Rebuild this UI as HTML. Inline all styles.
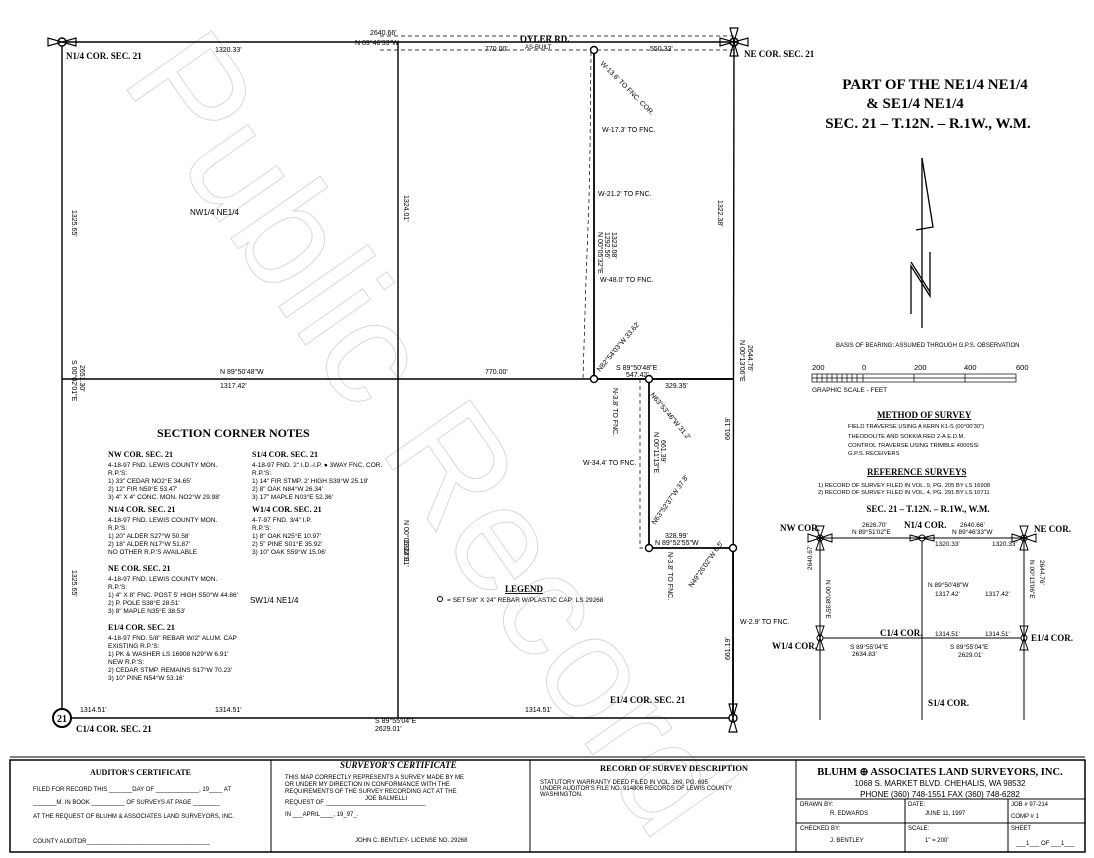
<!DOCTYPE html>
<html><head><meta charset="utf-8"><style>
html,body{margin:0;padding:0;background:#fff;width:1094px;height:858px;overflow:hidden;}
svg{display:block;font-family:"Liberation Sans",sans-serif;}
.s{font-family:"Liberation Serif",serif;font-weight:bold;}
</style></head><body>
<svg width="1094" height="858" viewBox="0 0 1094 858" xmlns="http://www.w3.org/2000/svg">
<rect width="1094" height="858" fill="#fff"/>
<!-- watermark -->
<text x="0" y="0" transform="translate(120,80) rotate(55)" font-size="150" fill="none" stroke="#d8d8d8" stroke-width="1" font-family="Liberation Sans,sans-serif">Public Record</text>

<g stroke="#000" fill="none" stroke-width="1.4">
<line x1="60" y1="42" x2="735" y2="42"/>
<line x1="62" y1="42" x2="62" y2="718"/>
<line x1="734" y1="42" x2="733" y2="718"/>
<line x1="62" y1="718" x2="733" y2="718"/>
<line x1="398" y1="42" x2="398" y2="718"/>
<line x1="62" y1="379" x2="734" y2="379"/>
<line x1="594" y1="48" x2="594" y2="379" stroke-width="1.8"/>
<line x1="594" y1="379" x2="734" y2="379" stroke-width="1.8"/>
<line x1="649" y1="379" x2="649" y2="548" stroke-width="1.8"/>
<line x1="649" y1="548" x2="733" y2="548" stroke-width="1.8"/>
<line x1="733" y1="548" x2="733" y2="718" stroke-width="1.8"/>
</g>
<g stroke="#000" fill="none" stroke-width="0.7" stroke-dasharray="4,3">
<line x1="380" y1="36" x2="735" y2="36"/>
<line x1="380" y1="50" x2="735" y2="50"/>
<polyline points="591,52 590,150 589,200 586,280 583,379"/>
<polyline points="640,379 640,548 649,548"/>
</g>
<g fill="#fff" stroke="#000" stroke-width="1.4">
<circle cx="594" cy="50" r="3.5"/><circle cx="594" cy="379" r="3.5"/><circle cx="649" cy="379" r="3.5"/><circle cx="649" cy="548" r="3.5"/><circle cx="733" cy="548" r="3.5"/>
<circle cx="62" cy="42" r="4"/><circle cx="734" cy="42" r="4"/><circle cx="733" cy="718" r="4"/>
<circle cx="62" cy="718" r="9" stroke-width="2"/>
</g>
<text x="62" y="722" font-size="10" text-anchor="middle" class="s">21</text>
<g stroke="#000" stroke-width="1.2" fill="none">
<path d="M48,38 L48,46 L76,38 L76,46 Z"/><path d="M720,38 L720,46 L748,38 L748,46 Z M730,28 L738,28 L730,56 L738,56 Z"/>
<path d="M729,704 L737,704 L729,732 L737,732 Z"/>
</g>

<g font-size="7" fill="#000">
<text x="370" y="35">2640.66'</text><text x="355" y="45">N 89°46'33"W</text>
<text x="215" y="52">1320.33'</text>
<text x="520" y="42" class="s" font-size="9" font-weight="normal">OYLER RD.</text>
<text x="525" y="49" font-size="6">AS-BUILT</text>
<text x="485" y="51">770.00'</text><text x="650" y="51">550.33'</text>
<text x="66" y="59" class="s" font-size="9" font-weight="normal">N1/4 COR. SEC. 21</text>
<text x="744" y="57" class="s" font-size="9" font-weight="normal">NE COR. SEC. 21</text>
<text x="190" y="215" font-size="8">NW1/4 NE1/4</text>
<text x="250" y="603" font-size="8">SW1/4 NE1/4</text>
<text transform="translate(72,210) rotate(90)">1325.65'</text>
<text transform="translate(72,360) rotate(90)">S 00°02'01"E</text>
<text transform="translate(80,365) rotate(90)">2651.30'</text>
<text transform="translate(72,570) rotate(90)">1325.65'</text>
<text transform="translate(404,195) rotate(90)">1324.01'</text>
<text transform="translate(404,540) rotate(90)">1324.01'</text>
<text transform="translate(404,520) rotate(90)">N 00°05'32"E</text>
<text transform="translate(718,200) rotate(90)">1322.38'</text>
<text transform="translate(740,340) rotate(90)">N 00°13'06"E</text>
<text transform="translate(748,345) rotate(90)">2644.76'</text>
<text transform="translate(730,440) rotate(-90)">661.19'</text>
<text transform="translate(730,660) rotate(-90)">661.19'</text>
<text x="220" y="374">N 89°50'48"W</text><text x="220" y="388">1317.42'</text>
<text x="485" y="374">770.00'</text>
<text x="616" y="370">S 89°50'48"E</text><text x="626" y="377">547.42'</text>
<text x="665" y="388">329.35'</text>
<text x="665" y="538">328.99'</text><text x="655" y="545">N 89°52'55"W</text>
<text x="600" y="64" transform="rotate(45 600 64)">W-13.6' TO FNC. COR.</text>
<text x="602" y="132">W-17.3' TO FNC.</text>
<text x="598" y="196">W-21.2' TO FNC.</text>
<text x="600" y="282">W-48.0' TO FNC.</text>
<text x="583" y="465">W-34.4' TO FNC.</text>
<text x="740" y="624">W-2.9' TO FNC.</text>
<text transform="translate(598,232) rotate(90)">N 00°05'32"E</text>
<text transform="translate(605,232) rotate(90)">1292.56'</text>
<text transform="translate(612,232) rotate(90)">1323.08'</text>
<text transform="translate(654,432) rotate(90)">N 00°11'13"E</text>
<text transform="translate(661,440) rotate(90)">661.39'</text>
<text transform="translate(600,372) rotate(-50)">N82°54'03"W 33.62'</text>
<text transform="translate(650,395) rotate(50)">N63°53'46"W 31.2'</text>
<text transform="translate(655,525) rotate(-55)">N63°52'37"W 37.8'</text>
<text transform="translate(692,588) rotate(-55)">N49°26'02"W 6.5'</text>
<text transform="translate(613,388) rotate(90)">N-3.8' TO FNC.</text>
<text transform="translate(668,552) rotate(90)">N-3.8' TO FNC.</text>
<text x="80" y="712">1314.51'</text><text x="215" y="712">1314.51'</text><text x="525" y="712">1314.51'</text>
<text x="375" y="723">S 89°55'04"E</text><text x="375" y="731">2629.01'</text>
<text x="76" y="732" class="s" font-size="9" font-weight="normal">C1/4 COR. SEC. 21</text>
<text x="610" y="703" class="s" font-size="9" font-weight="normal">E1/4 COR. SEC. 21</text>
</g>

<text x="157" y="437" class="s" font-size="12" font-weight="normal">SECTION CORNER NOTES</text>
<g font-size="6.5">
<text x="108" y="457" class="s" font-size="8">NW COR. SEC. 21</text>
<text x="108" y="467">4-18-97 FND. LEWIS COUNTY MON.</text><text x="108" y="475">R.P.'S:</text>
<text x="108" y="483">1) 33" CEDAR NO2°E 34.65'</text><text x="108" y="491">2) 12" FIR N59°E 53.47'</text><text x="108" y="499">3) 4" X 4" CONC. MON. NO2°W 29.98'</text>
<text x="108" y="512" class="s" font-size="8">N1/4 COR. SEC. 21</text>
<text x="108" y="522">4-18-97 FND. LEWIS COUNTY MON.</text><text x="108" y="530">R.P.'S:</text>
<text x="108" y="538">1) 20" ALDER S27°W 50.58'</text><text x="108" y="546">2) 18" ALDER N17°W 51.87'</text><text x="108" y="554">NO OTHER R.P.'S AVAILABLE</text>
<text x="108" y="571" class="s" font-size="8">NE COR. SEC. 21</text>
<text x="108" y="581">4-18-97 FND. LEWIS COUNTY MON.</text><text x="108" y="589">R.P.'S:</text>
<text x="108" y="597">1) 4" X 8" FNC. POST 5' HIGH S50°W 44.86'</text><text x="108" y="605">2) P. POLE S38°E 28.51'</text><text x="108" y="613">3) 8" MAPLE N35°E 38.53'</text>
<text x="108" y="630" class="s" font-size="8">E1/4 COR. SEC. 21</text>
<text x="108" y="640">4-18-97 FND. 5/8" REBAR W/2" ALUM. CAP</text><text x="108" y="648">EXISTING R.P.'S:</text>
<text x="108" y="656">1) PK &amp; WASHER LS 16908 N29°W 6.91'</text><text x="108" y="664">NEW R.P.'S:</text>
<text x="108" y="672">2) CEDAR STMP. REMAINS S17°W 70.23'</text><text x="108" y="680">3) 10" PINE N54°W 53.16'</text>
<text x="252" y="457" class="s" font-size="8">S1/4 COR. SEC. 21</text>
<text x="252" y="467">4-18-97 FND. 2" I.D.-I.P. ● 3WAY FNC. COR.</text><text x="252" y="475">R.P.'S:</text>
<text x="252" y="483">1) 14" FIR STMP. 2' HIGH S39°W 25.19'</text><text x="252" y="491">2) 8" OAK N84°W 26.34'</text><text x="252" y="499">3) 17" MAPLE N03°E 52.36'</text>
<text x="252" y="512" class="s" font-size="8">W1/4 COR. SEC. 21</text>
<text x="252" y="522">4-7-97 FND. 3/4" I.P.</text><text x="252" y="530">R.P.'S:</text>
<text x="252" y="538">1) 8" OAK N25°E 10.97'</text><text x="252" y="546">2) 5" PINE S01°E 35.92'</text><text x="252" y="554">3) 10" OAK S59°W 15.06'</text>
</g>
<text x="505" y="592" class="s" font-size="9" font-weight="normal" text-decoration="underline">LEGEND</text>
<circle cx="440" cy="599" r="2.5" fill="none" stroke="#000"/>
<text x="447" y="602" font-size="6.5">= SET 5/8" X 24" REBAR W/PLASTIC CAP: LS 29268</text>

<g class="s" font-size="15" text-anchor="middle">
<text x="935" y="89">PART OF THE NE1/4 NE1/4</text>
<text x="915" y="108">&amp; SE1/4 NE1/4</text>
<text x="928" y="128">SEC. 21 – T.12N. – R.1W., W.M.</text>
</g>
<g stroke="#000" fill="none" stroke-width="1.3">
<line x1="922" y1="158" x2="922" y2="328"/>
<path d="M922,158 L933,227 L916,230"/>
<path d="M911,314 L911,266 L930,296 L930,252 M911,262 L930,292"/>
</g>
<text x="836" y="347" font-size="6">BASIS OF BEARING:  ASSUMED THROUGH G.P.S. OBSERVATION</text>
<g font-size="7.5"><text x="812" y="370">200</text><text x="862" y="370">0</text><text x="914" y="370">200</text><text x="964" y="370">400</text><text x="1016" y="370">600</text>
<text x="812" y="392" font-size="6.5">GRAPHIC SCALE - FEET</text></g>
<g stroke="#000" stroke-width="0.7" fill="none">
<rect x="812" y="374" width="204" height="8"/><line x1="812" y1="378" x2="1016" y2="378"/>
<line x1="863" y1="374" x2="863" y2="382"/><line x1="914" y1="374" x2="914" y2="382"/><line x1="965" y1="374" x2="965" y2="382"/>
<path d="M817,374v8M822,374v8M827,374v8M832,374v8M837,374v8M842,374v8M847,374v8M852,374v8M857,374v8"/>
</g>
<text x="877" y="418" class="s" font-size="9" font-weight="normal" text-decoration="underline">METHOD OF SURVEY</text>
<g font-size="5.8"><text x="848" y="428">FIELD TRAVERSE USING A KERN K1-S (00°00'30")</text><text x="848" y="438">THEODOLITE AND SOKKIA RED 2-A E.D.M.</text><text x="848" y="447">CONTROL TRAVERSE USING TRIMBLE 4000SSi</text><text x="848" y="455">G.P.S. RECEIVERS</text>
<text x="818" y="487">1) RECORD OF SURVEY FILED IN VOL. 9, PG. 205 BY LS 16908</text><text x="818" y="494">2) RECORD OF SURVEY FILED IN VOL. 4, PG. 291 BY LS 10711</text></g>
<text x="867" y="475" class="s" font-size="9" font-weight="normal" text-decoration="underline">REFERENCE SURVEYS</text>
<text x="928" y="512" class="s" font-size="9" font-weight="normal" text-anchor="middle">SEC. 21 – T.12N. – R.1W., W.M.</text>

<g stroke="#000" stroke-width="1" fill="none">
<line x1="820" y1="538" x2="1024" y2="538"/><line x1="820" y1="638" x2="1024" y2="638"/>
<line x1="820" y1="538" x2="820" y2="720"/><line x1="922" y1="538" x2="922" y2="720"/><line x1="1024" y1="538" x2="1024" y2="720"/>
<g fill="#fff"><circle cx="820" cy="538" r="3"/><circle cx="922" cy="538" r="3"/><circle cx="1024" cy="538" r="3"/><circle cx="820" cy="638" r="3"/><circle cx="1024" cy="638" r="3"/></g>
<path d="M808,534v8l24,-8v8z M816,526h8l-8,24h8z M1012,534v8l24,-8v8z M1020,526h8l-8,24h8z M910,535v6l24,-6v6z M816,626h8l-8,24h8z M1020,626h8l-8,24h8z"/>
</g>
<g font-size="6.5">
<text x="780" y="531" class="s" font-size="9" font-weight="normal">NW COR.</text><text x="904" y="528" class="s" font-size="9" font-weight="normal">N1/4 COR.</text><text x="1034" y="532" class="s" font-size="9" font-weight="normal">NE COR.</text>
<text x="862" y="527">2626.70'</text><text x="852" y="534">N 89°51'02"E</text>
<text x="960" y="527">2640.66'</text><text x="952" y="534">N 89°46'33"W</text>
<text x="935" y="546">1320.33'</text><text x="992" y="546">1320.33'</text>
<text x="928" y="587">N 89°50'48"W</text><text x="935" y="596">1317.42'</text><text x="985" y="596">1317.42'</text>
<text x="880" y="636" class="s" font-size="9" font-weight="normal">C1/4 COR.</text>
<text x="935" y="636">1314.51'</text><text x="985" y="636">1314.51'</text>
<text x="772" y="649" class="s" font-size="9" font-weight="normal">W1/4 COR.</text><text x="1031" y="641" class="s" font-size="9" font-weight="normal">E1/4 COR.</text>
<text x="850" y="649">S 89°55'04"E</text><text x="852" y="656">2634.83'</text>
<text x="950" y="649">S 89°55'04"E</text><text x="958" y="657">2629.01'</text>
<text x="928" y="706" class="s" font-size="9" font-weight="normal">S1/4 COR.</text>
<text transform="translate(826,580) rotate(90)">N 00°08'35"E</text><text transform="translate(812,570) rotate(-90)">2640.67'</text>
<text transform="translate(1030,560) rotate(90)">N 00°13'06"E</text><text transform="translate(1040,560) rotate(90)">2644.76'</text>
</g>

<g stroke="#000" fill="none">
<rect x="10" y="760" width="1075" height="92" stroke-width="1.5"/>
<line x1="271" y1="760" x2="271" y2="852"/><line x1="530" y1="760" x2="530" y2="852"/><line x1="796" y1="760" x2="796" y2="852"/>
<line x1="796" y1="799" x2="1085" y2="799"/><line x1="796" y1="823" x2="1085" y2="823"/>
<line x1="905" y1="799" x2="905" y2="852"/><line x1="1008" y1="799" x2="1008" y2="852"/>
<line x1="10" y1="757" x2="1085" y2="757" stroke-width="1"/>
</g>
<text x="90" y="775" class="s" font-size="8" font-weight="normal">AUDITOR'S CERTIFICATE</text>
<g font-size="6">
<text x="33" y="791">FILED FOR RECORD THIS _______DAY OF _____________, 19____ AT</text>
<text x="33" y="804">_______M. IN BOOK __________ OF SURVEYS AT PAGE ________</text>
<text x="33" y="818">AT THE REQUEST OF BLUHM &amp; ASSOCIATES LAND SURVEYORS, INC.</text>
<text x="33" y="843">COUNTY AUDITOR_____________________________________</text>
<text x="285" y="779">THIS MAP CORRECTLY REPRESENTS A SURVEY MADE BY ME</text>
<text x="285" y="786">OR UNDER MY DIRECTION IN CONFORMANCE WITH THE</text>
<text x="285" y="793">REQUIREMENTS OF THE SURVEY RECORDING ACT AT THE</text>
<text x="285" y="804">REQUEST OF ______________________________</text><text x="365" y="800">JOE BALMELLI</text>
<text x="285" y="816">IN ___APRIL____, 19_97_.</text>
<text x="355" y="842">JOHN C. BENTLEY- LICENSE NO. 29268</text>
<text x="540" y="784">STATUTORY WARRANTY DEED FILED IN VOL. 269, PG. 695</text>
<text x="540" y="790">UNDER AUDITOR'S FILE NO. 914806 RECORDS OF LEWIS COUNTY</text>
<text x="540" y="796">WASHINGTON.</text>
<text x="800" y="806">DRAWN BY:</text><text x="830" y="815">R. EDWARDS</text>
<text x="908" y="806">DATE:</text><text x="925" y="815">JUNE 11, 1997</text>
<text x="1011" y="806">JOB # 97-214</text><text x="1011" y="818">COMP # 1</text>
<text x="800" y="830">CHECKED BY:</text><text x="830" y="842">J. BENTLEY</text>
<text x="908" y="830">SCALE:</text><text x="925" y="842">1" = 200'</text>
<text x="1011" y="830">SHEET</text><text x="1016" y="845">___1___ OF ___1___</text>
</g>
<text x="340" y="768" class="s" font-size="9" font-style="italic" font-weight="normal">SURVEYOR'S CERTIFICATE</text>
<text x="600" y="771" class="s" font-size="8.5" font-weight="normal">RECORD OF SURVEY DESCRIPTION</text>
<text x="940" y="775" class="s" font-size="10.5" text-anchor="middle" font-weight="normal">BLUHM ⊕ ASSOCIATES LAND SURVEYORS, INC.</text>
<text x="940" y="786" font-size="8" text-anchor="middle">1068 S. MARKET BLVD.   CHEHALIS, WA 98532</text>
<text x="940" y="797" font-size="8" text-anchor="middle">PHONE (360) 748-1551  FAX (360) 748-6282</text>
</svg>
</body></html>
